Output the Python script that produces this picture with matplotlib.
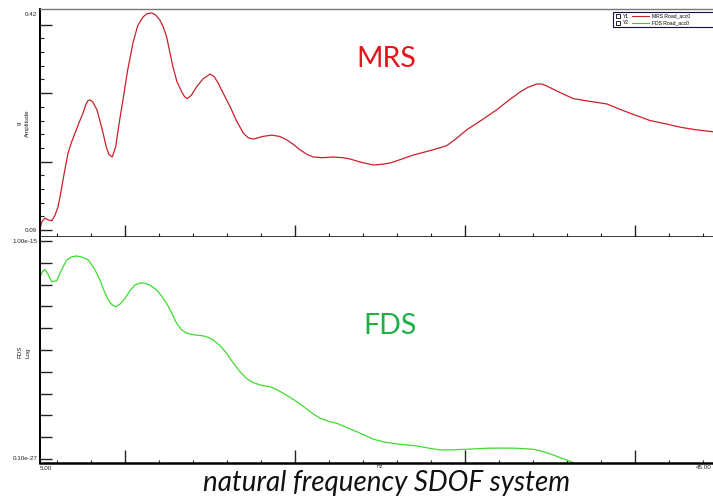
import numpy as np
import matplotlib
matplotlib.use("Agg")
import matplotlib.pyplot as plt
from matplotlib.ticker import FixedLocator, NullLocator, NullFormatter
from matplotlib.lines import Line2D
from matplotlib.patches import Rectangle

# ---- data ----
mrs_freq = [5.0, 5.12, 5.29, 5.5, 5.69, 5.88, 6.06, 6.2, 6.35, 6.5, 6.65, 6.85, 7.06, 7.3,
            7.53, 7.68, 7.82, 7.95, 8.1, 8.35, 8.5, 8.71, 8.9, 9.05, 9.25, 9.45, 9.65,
            9.88, 10.15, 10.47, 10.75, 11.06, 11.3, 11.57, 11.8, 12.06, 12.25, 12.45,
            12.62, 12.82, 13.05, 13.34, 13.5, 13.66, 13.9, 14.22, 14.6, 15.0, 15.25,
            15.49, 15.8, 16.18, 16.55, 16.96, 17.25, 17.55, 18.1, 18.63, 19.1, 19.51,
            19.9, 20.29, 20.7, 21.08, 21.6, 22.25, 22.8, 23.24, 23.9, 24.61, 25.1, 25.59,
            26.3, 26.96, 28.0, 28.92, 29.5, 30.1, 31.0, 31.86, 32.6, 33.24, 33.7, 34.22,
            34.5, 34.81, 35.6, 36.37, 37.3, 38.34, 39.0, 39.71, 40.88, 41.8, 42.65, 43.6,
            44.59, 45.0]
mrs_g = [0.092, 0.103, 0.108, 0.105, 0.104, 0.112, 0.125, 0.143, 0.165, 0.186, 0.206, 0.222,
         0.236, 0.252, 0.266, 0.278, 0.285, 0.286, 0.283, 0.271, 0.257, 0.236, 0.215, 0.204,
         0.200, 0.215, 0.250, 0.286, 0.330, 0.372, 0.398, 0.411, 0.416, 0.417, 0.414, 0.406,
         0.396, 0.381, 0.360, 0.336, 0.314, 0.298, 0.291, 0.288, 0.293, 0.306, 0.318, 0.325,
         0.321, 0.311, 0.295, 0.276, 0.255, 0.236, 0.229, 0.227, 0.231, 0.233, 0.231, 0.226,
         0.219, 0.211, 0.204, 0.200, 0.199, 0.200, 0.199, 0.197, 0.192, 0.188, 0.189, 0.191,
         0.197, 0.203, 0.210, 0.217, 0.228, 0.241, 0.256, 0.271, 0.286, 0.298, 0.305, 0.310,
         0.310, 0.307, 0.297, 0.288, 0.284, 0.280, 0.273, 0.266, 0.255, 0.250, 0.245, 0.241,
         0.238, 0.237]

fds_freq = [5.0, 5.12, 5.29, 5.45, 5.69, 5.98, 6.25, 6.57, 6.85, 7.16, 7.5, 7.84, 8.2, 8.53,
            8.8, 9.02, 9.25, 9.47, 9.72, 10.0, 10.3, 10.59, 10.9, 11.18, 11.5, 11.86, 12.15,
            12.45, 12.75, 13.04, 13.33, 13.63, 14.1, 14.61, 14.9, 15.19, 15.6, 15.98, 16.35,
            16.76, 17.15, 17.55, 18.0, 18.53, 18.9, 19.31, 19.7, 20.1, 20.6, 21.08, 21.5,
            22.06, 22.45, 23.0, 23.8, 24.61, 25.3, 25.98, 27.16, 27.9, 28.53, 29.3, 30.1,
            31.28, 32.2, 33.04, 34.02, 34.6, 35.19, 35.6, 35.98, 36.47, 37.2, 38.0]
fds_exp = [-17.22, -16.85, -16.69, -16.95, -17.43, -17.37, -16.75, -16.13, -15.95, -15.89,
           -15.97, -16.13, -16.65, -17.33, -18.05, -18.52, -18.82, -18.92, -18.75, -18.42,
           -17.95, -17.62, -17.50, -17.52, -17.65, -17.92, -18.28, -18.71, -19.30, -19.91,
           -20.30, -20.50, -20.60, -20.66, -20.75, -20.90, -21.25, -21.70, -22.25, -22.79,
           -23.20, -23.45, -23.60, -23.69, -23.85, -24.08, -24.32, -24.58, -24.95, -25.32,
           -25.58, -25.78, -25.87, -26.10, -26.45, -26.82, -27.00, -27.10, -27.22, -27.36,
           -27.46, -27.45, -27.42, -27.36, -27.35, -27.36, -27.42, -27.56, -27.76, -27.92,
           -28.06, -28.26, -28.55, -28.90]

x_major = [10, 20, 30, 40]
x_minor = [6, 8, 12, 14, 16, 18, 22, 24, 26, 28, 32, 34, 36, 38, 42, 44]

W, H = 713, 498
fig = plt.figure(figsize=(W / 100, H / 100), dpi=100)
fig.patch.set_facecolor("white")

def fx(px):
    return px / W

def fy(py):
    return 1 - py / H

red = "#c8202a"
green = "#3ddc2e"
tickfont = dict(family="Liberation Sans", size=4.5, color="#222222")

# ---- top panel: MRS ----
ax1 = fig.add_axes([fx(40), fy(237), fx(720) - fx(40), fy(9) - fy(237)])
ax1.plot(mrs_freq, mrs_g, color=red, lw=0.9, solid_joinstyle="round")
ax1.set_xlim(5, 45)
ax1.set_ylim(0.0795, 0.423)
ax1.spines["right"].set_visible(False)
ax1.spines["top"].set_color("#777777")
ax1.spines["top"].set_linewidth(1.0)
ax1.spines["left"].set_linewidth(1.4)
ax1.spines["bottom"].set_linewidth(1.8)
ymaj = [0.09 + k * 0.020625 for k in (0, 5, 10, 15)]
ymin = [0.09 + k * 0.020625 for k in range(1, 16) if k % 5 != 0]
ax1.yaxis.set_major_locator(FixedLocator(ymaj))
ax1.yaxis.set_minor_locator(FixedLocator(ymin))
ax1.xaxis.set_major_locator(FixedLocator(x_major))
ax1.xaxis.set_minor_locator(FixedLocator(x_minor))
ax1.xaxis.set_major_formatter(NullFormatter())
ax1.yaxis.set_major_formatter(NullFormatter())
ax1.tick_params(axis="both", which="major", direction="in", length=8.6, width=1.0, color="#222222")
ax1.tick_params(axis="both", which="minor", direction="in", length=3.2, width=0.8, color="#222222")
ax1.text(-0.004, 0.09, "0.09", transform=ax1.get_yaxis_transform(), ha="right", va="center", **tickfont)
ax1.text(-0.004, 0.415, "0.42", transform=ax1.get_yaxis_transform(), ha="right", va="center", **tickfont)
ax1.text(-0.030, 0.5, "g", transform=ax1.transAxes, rotation=90, ha="center", va="center", **tickfont)
ax1.text(-0.018, 0.5, "Amplitude", transform=ax1.transAxes, rotation=90, ha="center", va="center", **tickfont)
ax1.text(25.35, 0.347, "MRS", color="#e3151c", fontsize=20.5, family="Lato", ha="center", va="center")

# ---- bottom panel: FDS ----
ax2 = fig.add_axes([fx(40), fy(463), fx(720) - fx(40), fy(237) - fy(463)])
ax2.plot(fds_freq, [10.0 ** e for e in fds_exp], color=green, lw=0.9, solid_joinstyle="round")
ax2.set_yscale("log")
ax2.set_xlim(5, 45)
ax2.set_ylim(10.0 ** -28.24, 10.0 ** -14.76)
ax2.spines["right"].set_visible(False)
ax2.spines["top"].set_visible(False)
ax2.spines["left"].set_linewidth(1.4)
ax2.spines["bottom"].set_linewidth(1.8)
yt = [10.0 ** (-15 - 1.3 * k) for k in range(11)]
ax2.yaxis.set_major_locator(FixedLocator(yt))
ax2.yaxis.set_minor_locator(NullLocator())
ax2.yaxis.set_major_formatter(NullFormatter())
ax2.xaxis.set_major_locator(FixedLocator(x_major))
ax2.xaxis.set_minor_locator(FixedLocator(x_minor))
ax2.xaxis.set_major_formatter(NullFormatter())
ax2.tick_params(axis="y", which="major", direction="in", length=8.6, width=1.0, color="#222222")
ax2.tick_params(axis="x", which="major", direction="in", length=9.5, width=1.0, color="#222222")
ax2.tick_params(axis="x", which="minor", direction="in", length=2.5, width=0.8, color="#222222")
ax2.text(-0.004, 1e-15, "1.00e-15", transform=ax2.get_yaxis_transform(), ha="right", va="center", **tickfont)
ax2.text(-0.004, 1e-28, "0.10e-27", transform=ax2.get_yaxis_transform(), ha="right", va="center", **tickfont)
ax2.text(-0.030, 0.49, "FDS", transform=ax2.transAxes, rotation=90, ha="center", va="center", **tickfont)
ax2.text(-0.018, 0.49, "Log", transform=ax2.transAxes, rotation=90, ha="center", va="center", **tickfont)
ax2.text(5.0, -0.012, "5.00", transform=ax2.get_xaxis_transform(), ha="left", va="top", **tickfont)
ax2.text(25.0, -0.006, "Hz", transform=ax2.get_xaxis_transform(), ha="center", va="top",
         family="Liberation Sans", size=3.8, color="#222222")
fig.text(fx(712), fy(465), "45.00", ha="right", va="top", **tickfont)
ax2.text(0.515, 0.605, "FDS", transform=ax2.transAxes, color="#1fb045", fontsize=20.5,
         family="Lato", ha="center", va="center")

# ---- legend box ----
fig.patches.append(Rectangle((fx(613), fy(27)), fx(720) - fx(613), fy(12) - fy(27),
                             transform=fig.transFigure, fill=False, ec="#10104a", lw=0.8))
for i, (lab, col) in enumerate([("MRS Road_acc0", red), ("FDS Road_acc0", "#22dd22")]):
    yy = fy(16 + 7 * i)
    fig.patches.append(Rectangle((fx(616), yy - 2 / H), 4 / W, 4 / H, transform=fig.transFigure,
                                 fill=False, ec="black", lw=0.6))
    fig.text(fx(623), yy, "Y%d" % (i + 1), ha="left", va="center", family="Liberation Sans", size=3.6)
    fig.lines.append(Line2D([fx(632), fx(649)], [yy, yy], transform=fig.transFigure, color=col, lw=0.8))
    fig.text(fx(652), yy, lab, ha="left", va="center", family="Liberation Sans", size=3.6)

# ---- caption ----
fig.text(fx(387), fy(490.5), "natural frequency SDOF system", ha="center", va="baseline",
         fontsize=20, style="italic", family="Lato", color="#111111")

fig.savefig("out.png", dpi=100, facecolor="white")
